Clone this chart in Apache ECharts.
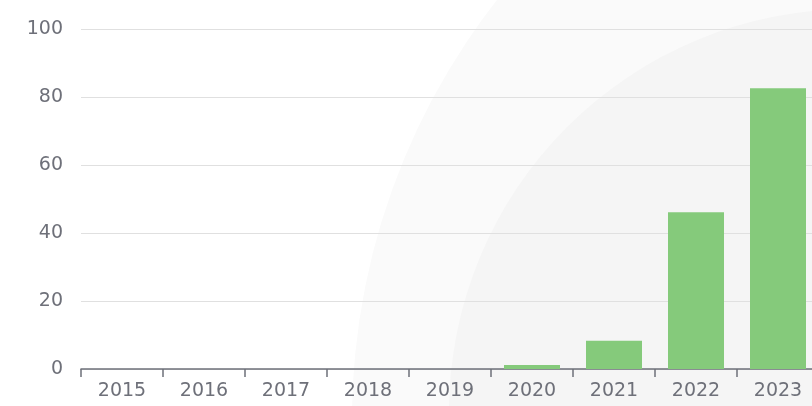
<!DOCTYPE html>
<html>
<head>
<meta charset="utf-8">
<script src="https://cdn.jsdelivr.net/npm/echarts@6/dist/echarts.min.js"></script>
<style>
html,body{margin:0;padding:0;background:#fff;}
#main{width:812px;height:406px;}
</style>
</head>
<body>
<div id="main"></div>
<script>
const years = ['2015','2016','2017','2018','2019','2020','2021','2022','2023'];
const values = [0, 0, 0, 0, 0, 1.2, 8.3, 46.1, 82.6];
const yTicks = [0, 20, 40, 60, 80, 100];

const chart = echarts.init(document.getElementById('main'));
const font = '"DejaVu Sans", sans-serif';
chart.setOption({
  animation: false,
  backgroundColor: '#ffffff',
  graphic: [
    { type: 'circle', z: -100, silent: true, shape: { cx: 1033, cy: 420, r: 681 }, style: { fill: '#fafafa' } },
    { type: 'circle', z: -99, silent: true, shape: { cx: 852, cy: 412, r: 403 }, style: { fill: '#f5f5f5' } }
  ],
  grid: { left: 81, top: 29, bottom: 37, width: 738, containLabel: false, outerBoundsMode: 'none' },
  xAxis: {
    type: 'category',
    data: years,
    axisLine: { show: true, lineStyle: { color: '#6e7079', width: 1.5 } },
    axisTick: { show: true, length: 8, lineStyle: { color: '#6e7079', width: 1.5 } },
    axisLabel: { color: '#6e7079', fontSize: 19, margin: 13, fontFamily: font }
  },
  yAxis: {
    type: 'value',
    min: yTicks[0],
    max: yTicks[yTicks.length - 1],
    interval: yTicks[1] - yTicks[0],
    axisLine: { show: false },
    axisTick: { show: false },
    splitLine: { lineStyle: { color: '#e0e0e0', width: 1.2 } },
    axisLabel: { color: '#6e7079', fontSize: 19, margin: 18, fontFamily: font }
  },
  series: [{
    type: 'bar',
    data: values,
    barWidth: 56,
    itemStyle: { color: '#85ca7b' }
  }]
});
</script>
</body>
</html>
